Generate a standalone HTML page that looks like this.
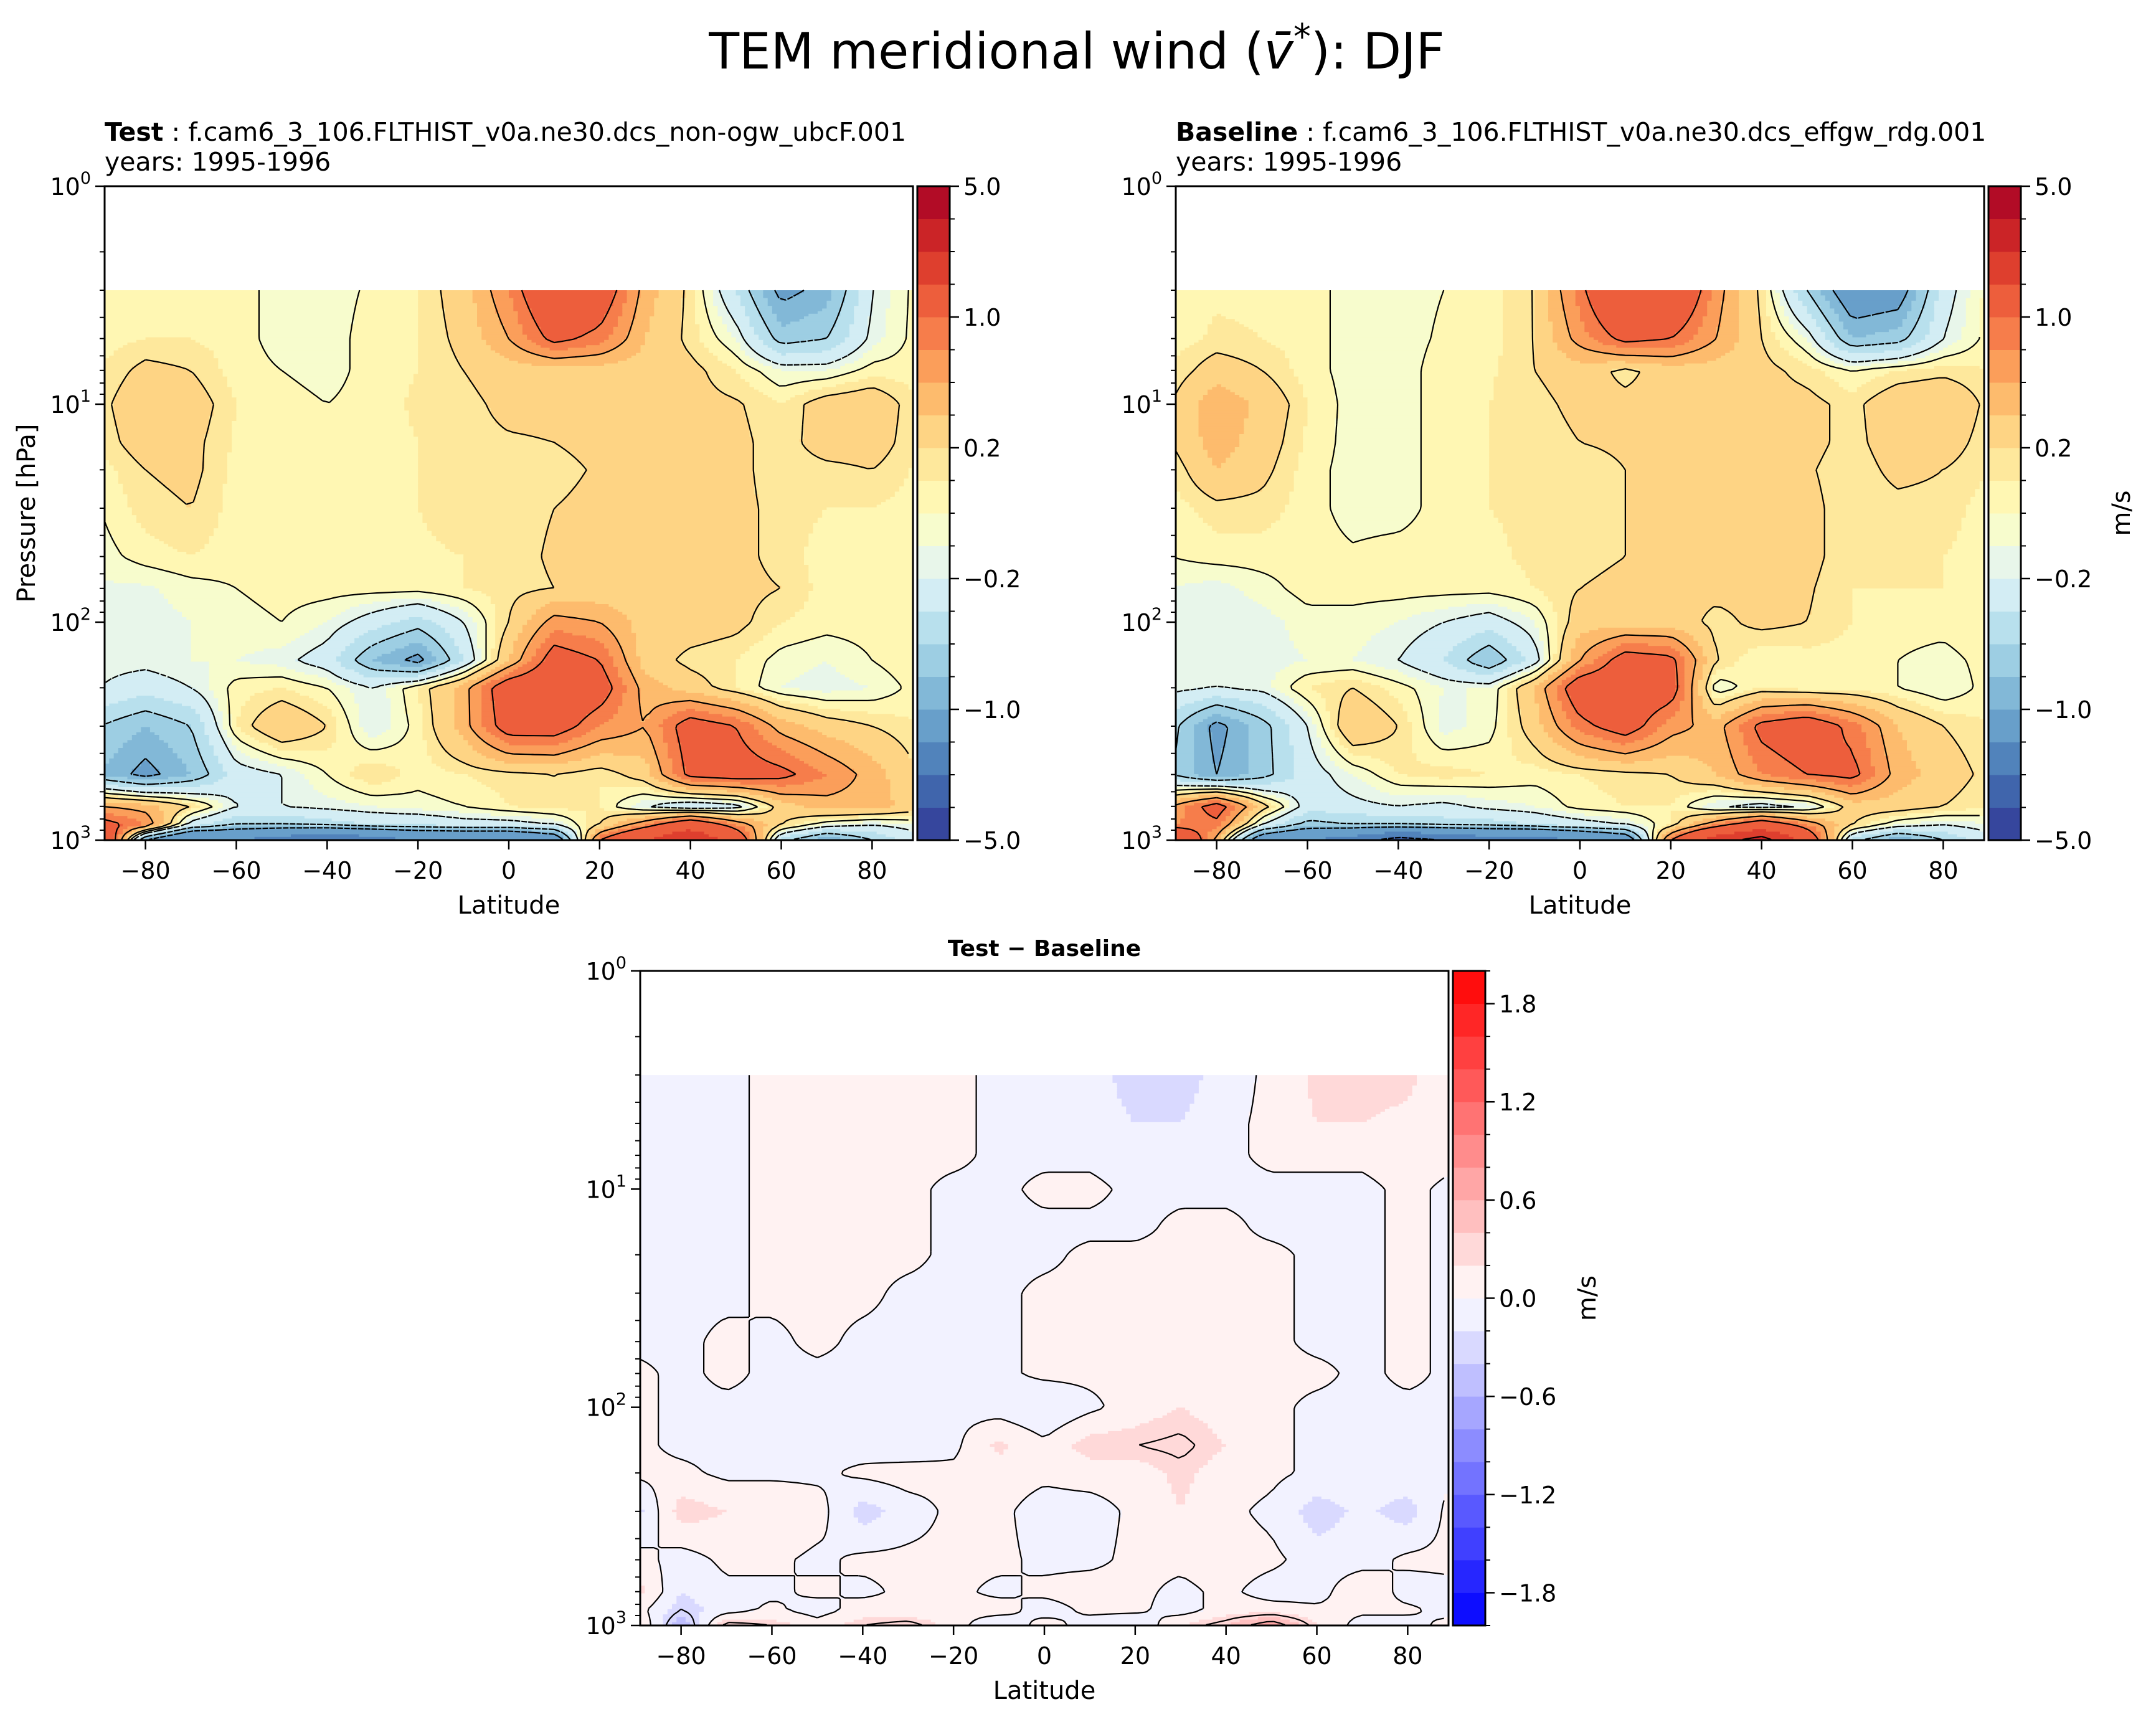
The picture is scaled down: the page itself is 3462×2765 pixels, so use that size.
<!DOCTYPE html>
<html><head><meta charset="utf-8">
<style>
html,body{margin:0;padding:0;background:#fff;}
svg{display:block;font-family:"DejaVu Sans","Liberation Sans",sans-serif;}
</style></head>
<body>
<svg id="fig" xmlns="http://www.w3.org/2000/svg" width="3462" height="2765" viewBox="0 0 3462 2765">
<rect x="0" y="0" width="3462" height="2765" fill="#fff"/>
<text x="1729" y="110" font-size="80" text-anchor="middle">TEM meridional wind (<tspan font-style="italic">v̄</tspan><tspan font-size="56" dy="-32">*</tspan><tspan dy="32">): DJF</tspan></text>
<text x="168" y="226" font-size="41"><tspan font-weight="bold">Test</tspan> : f.cam6_3_106.FLTHIST_v0a.ne30.dcs_non-ogw_ubcF.001</text>
<text x="168" y="274" font-size="41">years: 1995-1996</text>
<text x="1888" y="226" font-size="41"><tspan font-weight="bold">Baseline</tspan> : f.cam6_3_106.FLTHIST_v0a.ne30.dcs_effgw_rdg.001</text>
<text x="1888" y="274" font-size="41">years: 1995-1996</text>
<text x="1677" y="1535" font-size="36" font-weight="bold" text-anchor="middle">Test − Baseline</text>
<g id="layer"></g>
</svg>
<script>
// ---- data ----
const lats = [-90,-80,-70,-60,-50,-40,-30,-20,-10,0,10,20,30,40,50,60,70,80,90];
const pres = [3,5,7,10,15,20,30,50,70,100,150,200,300,500,700,850,1000];
const testVals = [
[0.05,0.08,0.08,0.05,-0.05,-0.05,0.02,0.1,0.3,0.8,1.5,1.3,0.5,0.15,-0.4,-1.1,-0.9,-0.2,0.05],
[0.05,0.1,0.1,0.05,-0.05,-0.05,0.05,0.1,0.25,0.6,1.1,0.9,0.4,0.15,-0.1,-0.7,-0.6,-0.15,0.05],
[0.1,0.25,0.2,0.05,0.0,-0.05,0.05,0.1,0.2,0.3,0.3,0.3,0.3,0.25,0.1,-0.1,-0.1,0.05,0.05],
[0.15,0.35,0.3,0.1,0.05,0.0,0.05,0.12,0.15,0.25,0.25,0.25,0.25,0.25,0.22,0.1,0.3,0.35,0.1],
[0.12,0.3,0.25,0.08,0.05,0.02,0.05,0.1,0.15,0.18,0.2,0.25,0.25,0.25,0.25,0.12,0.3,0.3,0.1],
[0.05,0.2,0.25,0.06,0.05,0.03,0.05,0.1,0.15,0.15,0.15,0.22,0.25,0.25,0.25,0.12,0.15,0.2,0.08],
[0.0,0.15,0.2,0.05,0.05,0.05,0.05,0.1,0.15,0.15,0.2,0.25,0.25,0.25,0.25,0.15,0.1,0.1,0.05],
[-0.05,0.05,0.1,0.05,0.05,0.05,0.05,0.08,0.1,0.15,0.22,0.25,0.25,0.25,0.25,0.15,0.05,0.0,0.0],
[-0.12,-0.12,-0.05,0.0,0.05,0.05,0.05,0.05,0.1,0.15,0.2,0.25,0.25,0.35,0.25,0.2,0.05,0.05,0.05],
[-0.1,-0.15,-0.1,-0.05,0.0,-0.1,-0.3,-0.5,-0.2,0.2,0.7,0.6,0.3,0.3,0.25,0.1,0.05,0.05,0.1],
[-0.15,-0.15,-0.1,-0.1,-0.15,-0.3,-0.8,-1.1,-0.4,0.4,1.2,1.0,0.3,0.15,0.1,-0.05,-0.1,0.0,0.1],
[-0.2,-0.3,-0.2,0.05,0.1,0.0,-0.2,0.1,0.5,1.3,1.4,1.2,0.5,0.3,0.1,-0.1,-0.15,-0.1,0.05],
[-0.6,-0.8,-0.6,0.1,0.4,0.2,-0.2,0.05,0.5,1.2,1.2,0.8,0.6,1.2,1.0,0.5,0.3,0.2,0.1],
[-0.8,-1.1,-0.8,-0.3,-0.2,0.0,0.2,0.05,0.1,0.15,0.2,0.1,0.3,1.1,1.2,1.1,0.8,0.5,0.2],
[0.6,0.5,0.2,-0.2,-0.2,-0.15,-0.1,-0.05,0.0,0.1,0.15,0.1,-0.2,-0.4,-0.3,0.3,0.5,0.5,0.3],
[1.2,0.8,-0.3,-0.6,-0.6,-0.5,-0.4,-0.4,-0.3,-0.3,-0.2,0.2,0.8,1.5,0.8,0.2,-0.1,-0.2,-0.1],
[2,-1,-2,-2,-2.5,-3,-2.5,-2,-2,-2,-1.5,1,2,3,1.5,-0.5,-1,-0.6,-0.3]
];
const baseVals = [
[0.05,0.08,0.08,0.05,-0.05,-0.05,0.0,0.05,0.2,0.9,1.7,1.6,0.7,0.15,-0.6,-1.3,-1.2,-0.3,0.05],
[0.05,0.12,0.1,0.05,-0.05,-0.05,0.02,0.05,0.2,0.7,1.1,1.0,0.6,0.2,-0.1,-0.8,-0.7,-0.2,0.05],
[0.1,0.3,0.2,0.05,-0.05,-0.05,0.05,0.08,0.2,0.3,0.15,0.3,0.3,0.25,0.15,0.0,0.1,0.15,0.1],
[0.2,0.55,0.35,0.1,-0.05,-0.05,0.05,0.1,0.15,0.25,0.25,0.25,0.25,0.25,0.25,0.15,0.35,0.4,0.15],
[0.2,0.5,0.3,0.08,-0.05,-0.05,0.05,0.1,0.12,0.2,0.22,0.25,0.25,0.25,0.25,0.15,0.3,0.3,0.12],
[0.1,0.4,0.25,0.05,-0.05,-0.05,0.05,0.1,0.12,0.15,0.2,0.22,0.25,0.25,0.22,0.12,0.25,0.2,0.1],
[0.05,0.15,0.15,0.05,-0.05,-0.05,0.05,0.1,0.12,0.15,0.2,0.25,0.25,0.25,0.25,0.12,0.15,0.15,0.05],
[0.0,0.05,0.05,0.05,0.02,0.05,0.05,0.08,0.12,0.15,0.2,0.25,0.25,0.25,0.25,0.12,0.1,0.1,0.05],
[-0.1,-0.15,-0.05,0.05,0.05,0.05,0.05,0.05,0.1,0.2,0.25,0.25,0.25,0.25,0.22,0.1,0.1,0.1,0.05],
[-0.1,-0.15,-0.15,-0.05,-0.05,-0.1,-0.2,-0.3,-0.1,0.3,0.3,0.3,0.15,0.25,0.2,0.1,0.05,0.05,0.1],
[-0.12,-0.15,-0.15,-0.1,-0.1,-0.2,-0.4,-0.8,-0.3,0.6,1.2,1.1,0.2,0.0,0.05,0.05,0.0,-0.05,0.05],
[-0.15,-0.2,-0.15,0.1,0.2,0.05,-0.1,-0.1,0.4,1.3,1.3,1.2,-0.1,0.1,0.05,0.05,0.0,-0.1,0.05],
[-0.5,-1.1,-0.7,-0.2,0.4,0.2,-0.15,-0.05,0.3,0.9,1.2,0.7,0.5,1.1,1.3,0.9,0.4,0.2,0.1],
[-0.6,-1.0,-0.7,-0.3,-0.1,0.1,0.15,0.1,0.05,0.1,0.15,0.2,0.4,0.8,1.0,1.1,0.5,0.3,0.15],
[0.6,1.2,0.3,-0.3,-0.25,-0.2,-0.25,-0.15,-0.1,0.05,0.1,0.1,-0.2,-0.3,-0.2,0.3,0.3,0.2,0.1],
[0.8,0.9,-0.2,-0.7,-0.6,-0.6,-0.5,-0.5,-0.4,-0.3,-0.2,0.1,0.8,1.4,0.8,0.2,-0.1,-0.2,-0.1],
[2,0.5,-1.5,-2,-2.5,-3.5,-3,-2.5,-2.5,-2,-1.5,1,2.5,3.5,1.5,-0.5,-1,-0.6,-0.3]
];
const diffVals = [
[-0.1,-0.1,-0.05,0.05,0.05,0.05,0.05,0.05,-0.05,-0.1,-0.1,-0.3,-0.3,-0.1,0.05,0.25,0.3,0.25,0.05],
[-0.05,-0.1,-0.05,0.05,0.05,0.05,0.05,0.05,-0.05,-0.05,-0.1,-0.2,-0.2,-0.05,0.05,0.2,0.2,0.15,0.05],
[-0.05,-0.1,-0.05,0.05,0.05,0.05,0.05,0.05,-0.05,-0.05,-0.05,-0.1,-0.1,-0.05,0.05,0.05,0.05,0.1,0.05],
[-0.05,-0.15,-0.05,0.05,0.05,0.05,0.05,-0.05,-0.05,0.05,0.05,-0.05,-0.05,-0.05,-0.05,-0.05,-0.05,0.05,-0.05],
[-0.05,-0.15,-0.05,0.05,0.05,0.05,0.05,-0.05,-0.05,-0.05,-0.05,-0.05,0.05,0.05,-0.05,-0.05,-0.05,0.05,-0.05],
[-0.05,-0.15,-0.05,0.05,0.05,0.05,0.05,-0.05,-0.05,-0.05,0.05,0.05,0.05,0.05,0.05,-0.05,-0.05,0.05,-0.05],
[-0.05,-0.05,-0.05,0.05,0.05,0.05,-0.05,-0.05,-0.05,0.05,0.05,0.05,0.05,0.05,0.05,-0.05,-0.05,0.05,-0.05],
[-0.05,-0.05,0.05,-0.05,0.05,-0.05,-0.05,-0.05,-0.05,0.05,0.05,0.05,0.05,0.05,0.05,-0.05,-0.05,0.05,-0.05],
[0.05,-0.05,0.05,-0.05,-0.05,-0.05,-0.05,-0.05,-0.05,0.05,0.05,0.05,0.05,0.05,0.05,0.05,-0.05,0.05,-0.05],
[0.05,-0.05,-0.05,-0.05,-0.05,-0.05,-0.05,-0.05,-0.1,-0.2,-0.05,0.1,0.2,0.1,0.05,-0.05,-0.05,-0.05,-0.05],
[0.05,-0.05,-0.05,-0.05,-0.05,-0.1,-0.15,-0.05,0.25,0.05,0.3,0.3,0.35,0.2,0.05,-0.05,-0.05,-0.05,-0.05],
[0.05,0.05,-0.05,-0.05,-0.05,0.05,0.1,0.05,0.1,0.05,0.1,0.1,0.25,0.1,0.05,-0.05,-0.05,-0.05,-0.05],
[-0.3,0.3,0.2,0.2,0.1,-0.3,-0.1,0.05,0.05,-0.1,-0.1,0.05,0.2,0.05,-0.05,-0.3,-0.15,-0.3,0.1],
[0.1,-0.1,0.05,0.05,-0.05,0.05,0.05,0.05,0.05,-0.05,-0.05,0.05,0.05,0.1,0.05,-0.1,-0.1,0.05,0.05],
[0.3,-0.2,-0.05,-0.05,0.05,-0.05,0.05,0.05,-0.05,0.05,0.1,0.05,-0.05,0.05,-0.1,-0.1,0.2,-0.1,-0.05],
[0.1,-0.3,-0.1,0.05,-0.1,0.1,0.05,0.05,0.1,-0.1,0.05,0.05,-0.1,0.1,0.1,0.05,0.05,0.05,-0.1],
[0.3,-0.6,0.4,0.3,0.1,0.3,0.4,0.1,-0.2,0.1,-0.1,-0.2,0.2,0.4,0.8,0.2,-0.1,-0.1,0.1]
];
const fieldLevels = [-5,-4,-3,-2,-1,-0.8,-0.6,-0.4,-0.2,-0.1,0,0.1,0.2,0.4,0.6,0.8,1,2,3,4,5];
const fieldLineLevels = [-3,-1,-0.6,-0.2,0,0.2,0.6,1,3];
const fieldTickLabels = ["−5.0","−1.0","−0.2","0.2","1.0","5.0"];
const fieldTickValues = [-5,-1,-0.2,0.2,1,5];
const diffLevels = [-2,-1.8,-1.6,-1.4,-1.2,-1,-0.8,-0.6,-0.4,-0.2,0,0.2,0.4,0.6,0.8,1,1.2,1.4,1.6,1.8,2];
const diffLineLevels = [-0.6,-0.3,0,0.3,0.6];
const diffTickLabels = ["−1.8","−1.2","−0.6","0.0","0.6","1.2","1.8"];
const diffTickValues = [-1.8,-1.2,-0.6,0,0.6,1.2,1.8];
const latTicks = [-80,-60,-40,-20,0,20,40,60,80];

// ---- colormaps ----
const rdylbu = ["#313695","#4575b4","#74add1","#abd9e9","#e0f3f8","#ffffbf","#fee090","#fdae61","#f46d43","#d73027","#a50026"];
function hex(h){return [parseInt(h.substr(1,2),16),parseInt(h.substr(3,2),16),parseInt(h.substr(5,2),16)];}
function rdylbuR(t){const n=rdylbu.length-1;const f=Math.min(n-1e-9,Math.max(0,t*n));const i=Math.floor(f),u=f-i;
 const a=hex(rdylbu[i]),b=hex(rdylbu[i+1]);return "rgb("+a.map((v,k)=>Math.round(v+(b[k]-v)*u)).join(",")+")";}
function bwr(t){let r,g,b;if(t<0.5){r=g=Math.round(510*t);b=255;}else{r=255;g=b=Math.round(510*(1-t));}return "rgb("+r+","+g+","+b+")";}

const NS="http://www.w3.org/2000/svg";
const layer=document.getElementById('layer');
function mk(tag,attrs,parent){const e=document.createElementNS(NS,tag);for(const k in attrs)e.setAttribute(k,attrs[k]);(parent||layer).appendChild(e);return e;}

function bandIndex(v,levels){const n=levels.length-1;if(v<=levels[0])return 0;if(v>=levels[n])return n-1;
 for(let i=0;i<n;i++){if(v<levels[i+1])return i;}return n-1;}

const lps=pres.map(p=>Math.log10(p));
function sample(vals,lat,lp){
 let ci=(lat+90)/10;ci=Math.max(0,Math.min(lats.length-1.0001,ci));const c0=Math.floor(ci),cu=ci-c0;
 let r0=0;while(r0<lps.length-2&&lp>lps[r0+1])r0++;
 let ru=(lp-lps[r0])/(lps[r0+1]-lps[r0]);ru=Math.max(0,Math.min(1,ru));
 const a=vals[r0][c0],b=vals[r0][c0+1],c=vals[r0+1][c0],d=vals[r0+1][c0+1];
 return (a*(1-cu)+b*cu)*(1-ru)+(c*(1-cu)+d*cu)*ru;
}

function panel(cfg){
 const g=mk('g',{});
 
 
 const {x0,x1,y0,y1}=cfg;
 const xOf=lat=>x0+(lat+89)*(x1-x0)/178;
 const yOfL=lp=>y0+(y1-y0)*lp/3;
 const yOf=p=>yOfL(Math.log10(p));
 const nb=cfg.levels.length-1;
 const colors=[];for(let i=0;i<nb;i++)colors.push(cfg.cmap((i+0.5)/nb));
 const fg=mk('g',{},g);
 
 
 const lpTop=Math.log10(3),dlp=0.012,dlat=1;
 for(let lp=lpTop;lp<3-1e-9;lp+=dlp){
  const lpe=Math.min(3,lp+dlp),lpc=(lp+lpe)/2;
  const ya=yOfL(lp),yb=yOfL(lpe);
  let runStart=-89,runBand=null;
  for(let lat=-89;lat<=89;lat+=dlat){
   const le=Math.min(89,lat+dlat);
   const band = lat<89? bandIndex(sample(cfg.vals,(lat+le)/2,lpc),cfg.levels) : -1;
   if(runBand===null){runBand=band;runStart=lat;}
   else if(band!==runBand){
    const r=mk('rect',{x:xOf(runStart).toFixed(1),y:ya.toFixed(1),width:(xOf(lat)-xOf(runStart)+0.6).toFixed(1),height:(yb-ya+0.6).toFixed(1),fill:colors[runBand]},fg);
    
    
    runBand=band;runStart=lat;
   }
  }
 }
 // contour lines via marching squares
 const gl=[],gp=[];for(let la=-89;la<=89;la+=1.5)gl.push(la);for(let lp=lpTop;lp<=3+1e-9;lp+=0.015)gp.push(Math.min(3,lp));
 const grid=gp.map(lp=>gl.map(la=>sample(cfg.vals,la,lp)));
 const cg=mk('g',{},g);
 
 
 cfg.lineLevels.forEach(L=>{
  let d='';
  const P=(i,j)=>[xOf(gl[j]),yOfL(gp[i])];
  const itp=(pa,va,pb,vb)=>{const t=(L-va)/(vb-va);return [pa[0]+(pb[0]-pa[0])*t,pa[1]+(pb[1]-pa[1])*t];};
  for(let i=0;i<gp.length-1;i++)for(let j=0;j<gl.length-1;j++){
   const v=[grid[i][j],grid[i][j+1],grid[i+1][j+1],grid[i+1][j]];
   const p=[P(i,j),P(i,j+1),P(i+1,j+1),P(i+1,j)];
   const pts=[];
   for(let k=0;k<4;k++){const a=v[k],b=v[(k+1)%4];if((a<L)!==(b<L))pts.push(itp(p[k],a,p[(k+1)%4],b));}
   for(let k=0;k+1<pts.length;k+=2)d+='M'+pts[k][0].toFixed(1)+' '+pts[k][1].toFixed(1)+'L'+pts[k+1][0].toFixed(1)+' '+pts[k+1][1].toFixed(1);
  }
  if(d){const pa=mk('path',{d:d,fill:'none',stroke:'#000','stroke-width':2.2,'stroke-dasharray':L<0?'9 6':'none'},cg);
   
   }
 });
 const fr=mk('rect',{x:x0,y:y0,width:x1-x0,height:y1-y0,fill:'none',stroke:'#000','stroke-width':3},g);
 
 
 latTicks.forEach(t=>{const x=xOf(t);
  mk('line',{x1:x,y1:y1,x2:x,y2:y1+15,stroke:'#000','stroke-width':2.5},g);
  const tx=mk('text',{x:x,y:y1+62,'font-size':38,'text-anchor':'middle'},g);
  
  
  tx.textContent=(t<0?'−':'')+Math.abs(t);
 });
 const xl=mk('text',{x:(x0+x1)/2,y:y1+118,'font-size':40,'text-anchor':'middle'},g);
 
 
 xl.textContent='Latitude';
 for(let e=0;e<=3;e++){const y=yOf(Math.pow(10,e));
  mk('line',{x1:x0-15,y1:y,x2:x0,y2:y,stroke:'#000','stroke-width':2.5},g);
  const tx=mk('text',{x:x0-22,y:y+14,'font-size':38,'text-anchor':'end'},g);
  
  
  tx.innerHTML='10<tspan font-size="27" dy="-18">'+e+'</tspan>';
  if(e<3)for(let m=2;m<=9;m++){const ym=yOf(m*Math.pow(10,e));mk('line',{x1:x0-8,y1:ym,x2:x0,y2:ym,stroke:'#000','stroke-width':2},g);}
 }
 if(cfg.ylabel){const yl=mk('text',{x:0,y:0,'font-size':40,'text-anchor':'middle',transform:'translate(56,'+((y0+y1)/2)+') rotate(-90)'},g);
  
  
  yl.textContent='Pressure [hPa]';}
 const cb=mk('g',{},g);
 
 
 const cx0=cfg.cbx,cx1=cfg.cbx+52,bh=(y1-y0)/nb;
 for(let i=0;i<nb;i++){const r=mk('rect',{x:cx0,y:(y1-(i+1)*bh).toFixed(1),width:52,height:(bh+0.5).toFixed(1),fill:colors[i]},cb);
  
  }
 mk('rect',{x:cx0,y:y0,width:52,height:y1-y0,fill:'none',stroke:'#000','stroke-width':3},cb);
 for(let i=0;i<=nb;i++){const y=y1-i*bh;mk('line',{x1:cx1,y1:y,x2:cx1+8,y2:y,stroke:'#000','stroke-width':2},cb);}
 cfg.tickValues.forEach((v,k)=>{const i=cfg.levels.findIndex(l=>Math.abs(l-v)<1e-9);const y=y1-i*bh;
  mk('line',{x1:cx1,y1:y,x2:cx1+15,y2:y,stroke:'#000','stroke-width':2.5},cb);
  const tx=mk('text',{x:cx1+22,y:y+14,'font-size':38},cb);
  
  
  tx.textContent=cfg.tickLabels[k];});
 if(cfg.unitX){const u=mk('text',{x:0,y:0,'font-size':40,'text-anchor':'middle',transform:'translate('+cfg.unitX+','+((y0+y1)/2)+') rotate(-90)'},cb);
  
  
  u.textContent='m/s';}
}

panel({name:'test-panel',x0:168,x1:1466,y0:299,y1:1349,vals:testVals,levels:fieldLevels,lineLevels:fieldLineLevels,cmap:rdylbuR,cbx:1473,tickValues:fieldTickValues,tickLabels:fieldTickLabels,ylabel:true});
panel({name:'baseline-panel',x0:1888,x1:3186,y0:299,y1:1349,vals:baseVals,levels:fieldLevels,lineLevels:fieldLineLevels,cmap:rdylbuR,cbx:3193,tickValues:fieldTickValues,tickLabels:fieldTickLabels,unitX:3420});
panel({name:'diff-panel',x0:1028,x1:2326,y0:1559,y1:2610,vals:diffVals,levels:diffLevels,lineLevels:diffLineLevels,cmap:bwr,cbx:2333,tickValues:diffTickValues,tickLabels:diffTickLabels,unitX:2562});
</script>
</body></html>
